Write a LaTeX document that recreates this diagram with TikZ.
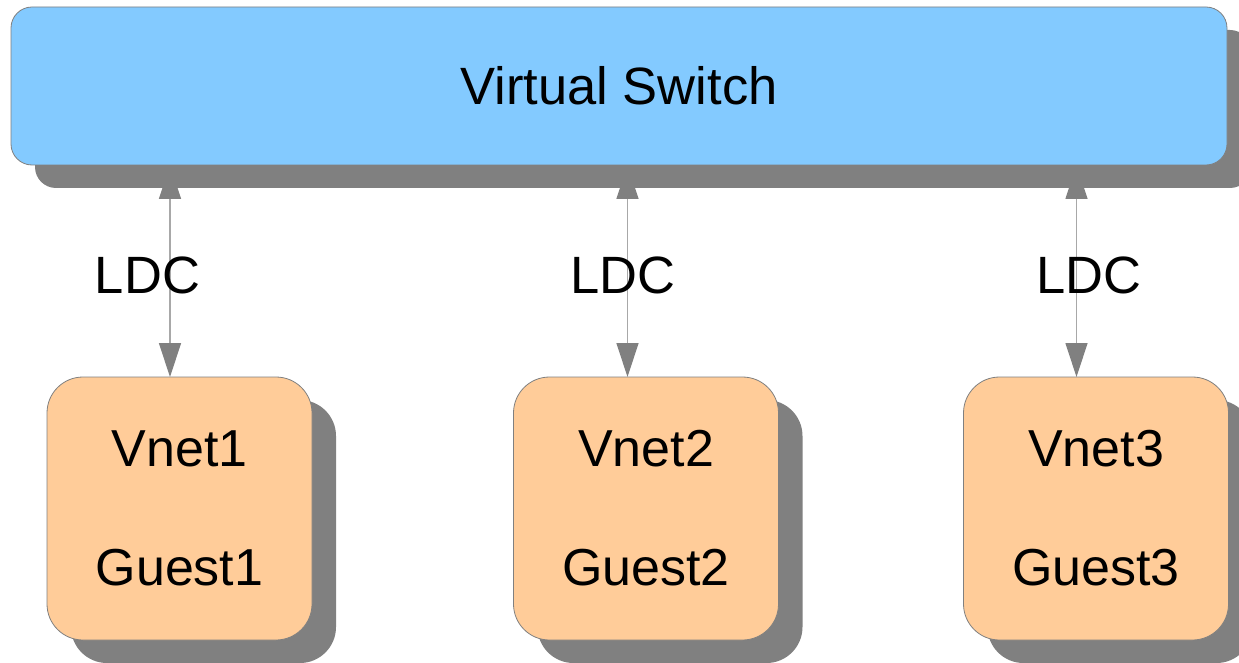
\documentclass[tikz,border=0pt]{standalone}
\usepackage{fontspec}
\setmainfont{Liberation Sans}
\usetikzlibrary{arrows.meta,shadows,backgrounds}
\definecolor{switchblue}{HTML}{83CAFF}
\definecolor{guestorange}{HTML}{FFCC99}
\definecolor{shadowgray}{HTML}{808080}
\definecolor{edgegray}{HTML}{808080}
\definecolor{linkgray}{HTML}{A8A8A8}
\tikzset{
  boxshadow/.style={drop shadow={shadow xshift=24pt,shadow yshift=-23pt,opacity=1,fill=shadowgray}},
  switchbox/.style={rectangle,rounded corners=21pt,draw=edgegray,line width=0.8pt,
    fill=switchblue,minimum width=1216pt,minimum height=158pt,inner sep=0pt,outer sep=0pt,
    boxshadow,font=\fontsize{52.5}{60}\selectfont},
  guestbox/.style={rectangle,rounded corners=36pt,draw=edgegray,line width=0.8pt,
    fill=guestorange,minimum width=265pt,minimum height=263pt,inner sep=0pt,outer sep=0pt,
    boxshadow,align=center,font=\fontsize{52}{119}\selectfont},
  ldc/.style={draw=linkgray,line width=1.3pt,
    {Triangle[length=34pt,width=22pt,color=shadowgray]}-{Triangle[length=34pt,width=22pt,color=shadowgray]}},
  ldclabel/.style={anchor=base,inner sep=0pt,font=\fontsize{52.5}{60}\selectfont}
}
\begin{document}
\begin{tikzpicture}[x=1pt,y=-1pt]
  \clip (0,0) rectangle (1239,663);

  % switch and the three guest domains
  \node[switchbox] (sw) at (619,86) {Virtual Switch};
  \node[guestbox] (g1) at (179.5,508.5) {Vnet1\\Guest1};
  \node[guestbox] (g2) at (646,508.5) {Vnet2\\Guest2};
  \node[guestbox] (g3) at (1096,508.5) {Vnet3\\Guest3};

  % attachment points of the LDC channels on the guests
  \coordinate (a1) at ([xshift=123pt]g1.north west);
  \coordinate (a2) at ([xshift=114pt]g2.north west);
  \coordinate (a3) at ([xshift=113pt]g3.north west);

  % white page, then the LDC channels underneath the switch shadow
  \begin{scope}[on background layer]
    \fill[white] (0,0) rectangle (1239,663);
    \draw[ldc] (sw.south -| a1) -- (a1);
    \draw[ldc] (sw.south -| a2) -- (a2);
    \draw[ldc] (sw.south -| a3) -- (a3);
  \end{scope}

  \node[ldclabel] (l1) at (147.5,293) {LDC};
  \node[ldclabel] (l2) at (623,293) {LDC};
  \node[ldclabel] (l3) at (1088.5,293) {LDC};
\end{tikzpicture}
\end{document}
